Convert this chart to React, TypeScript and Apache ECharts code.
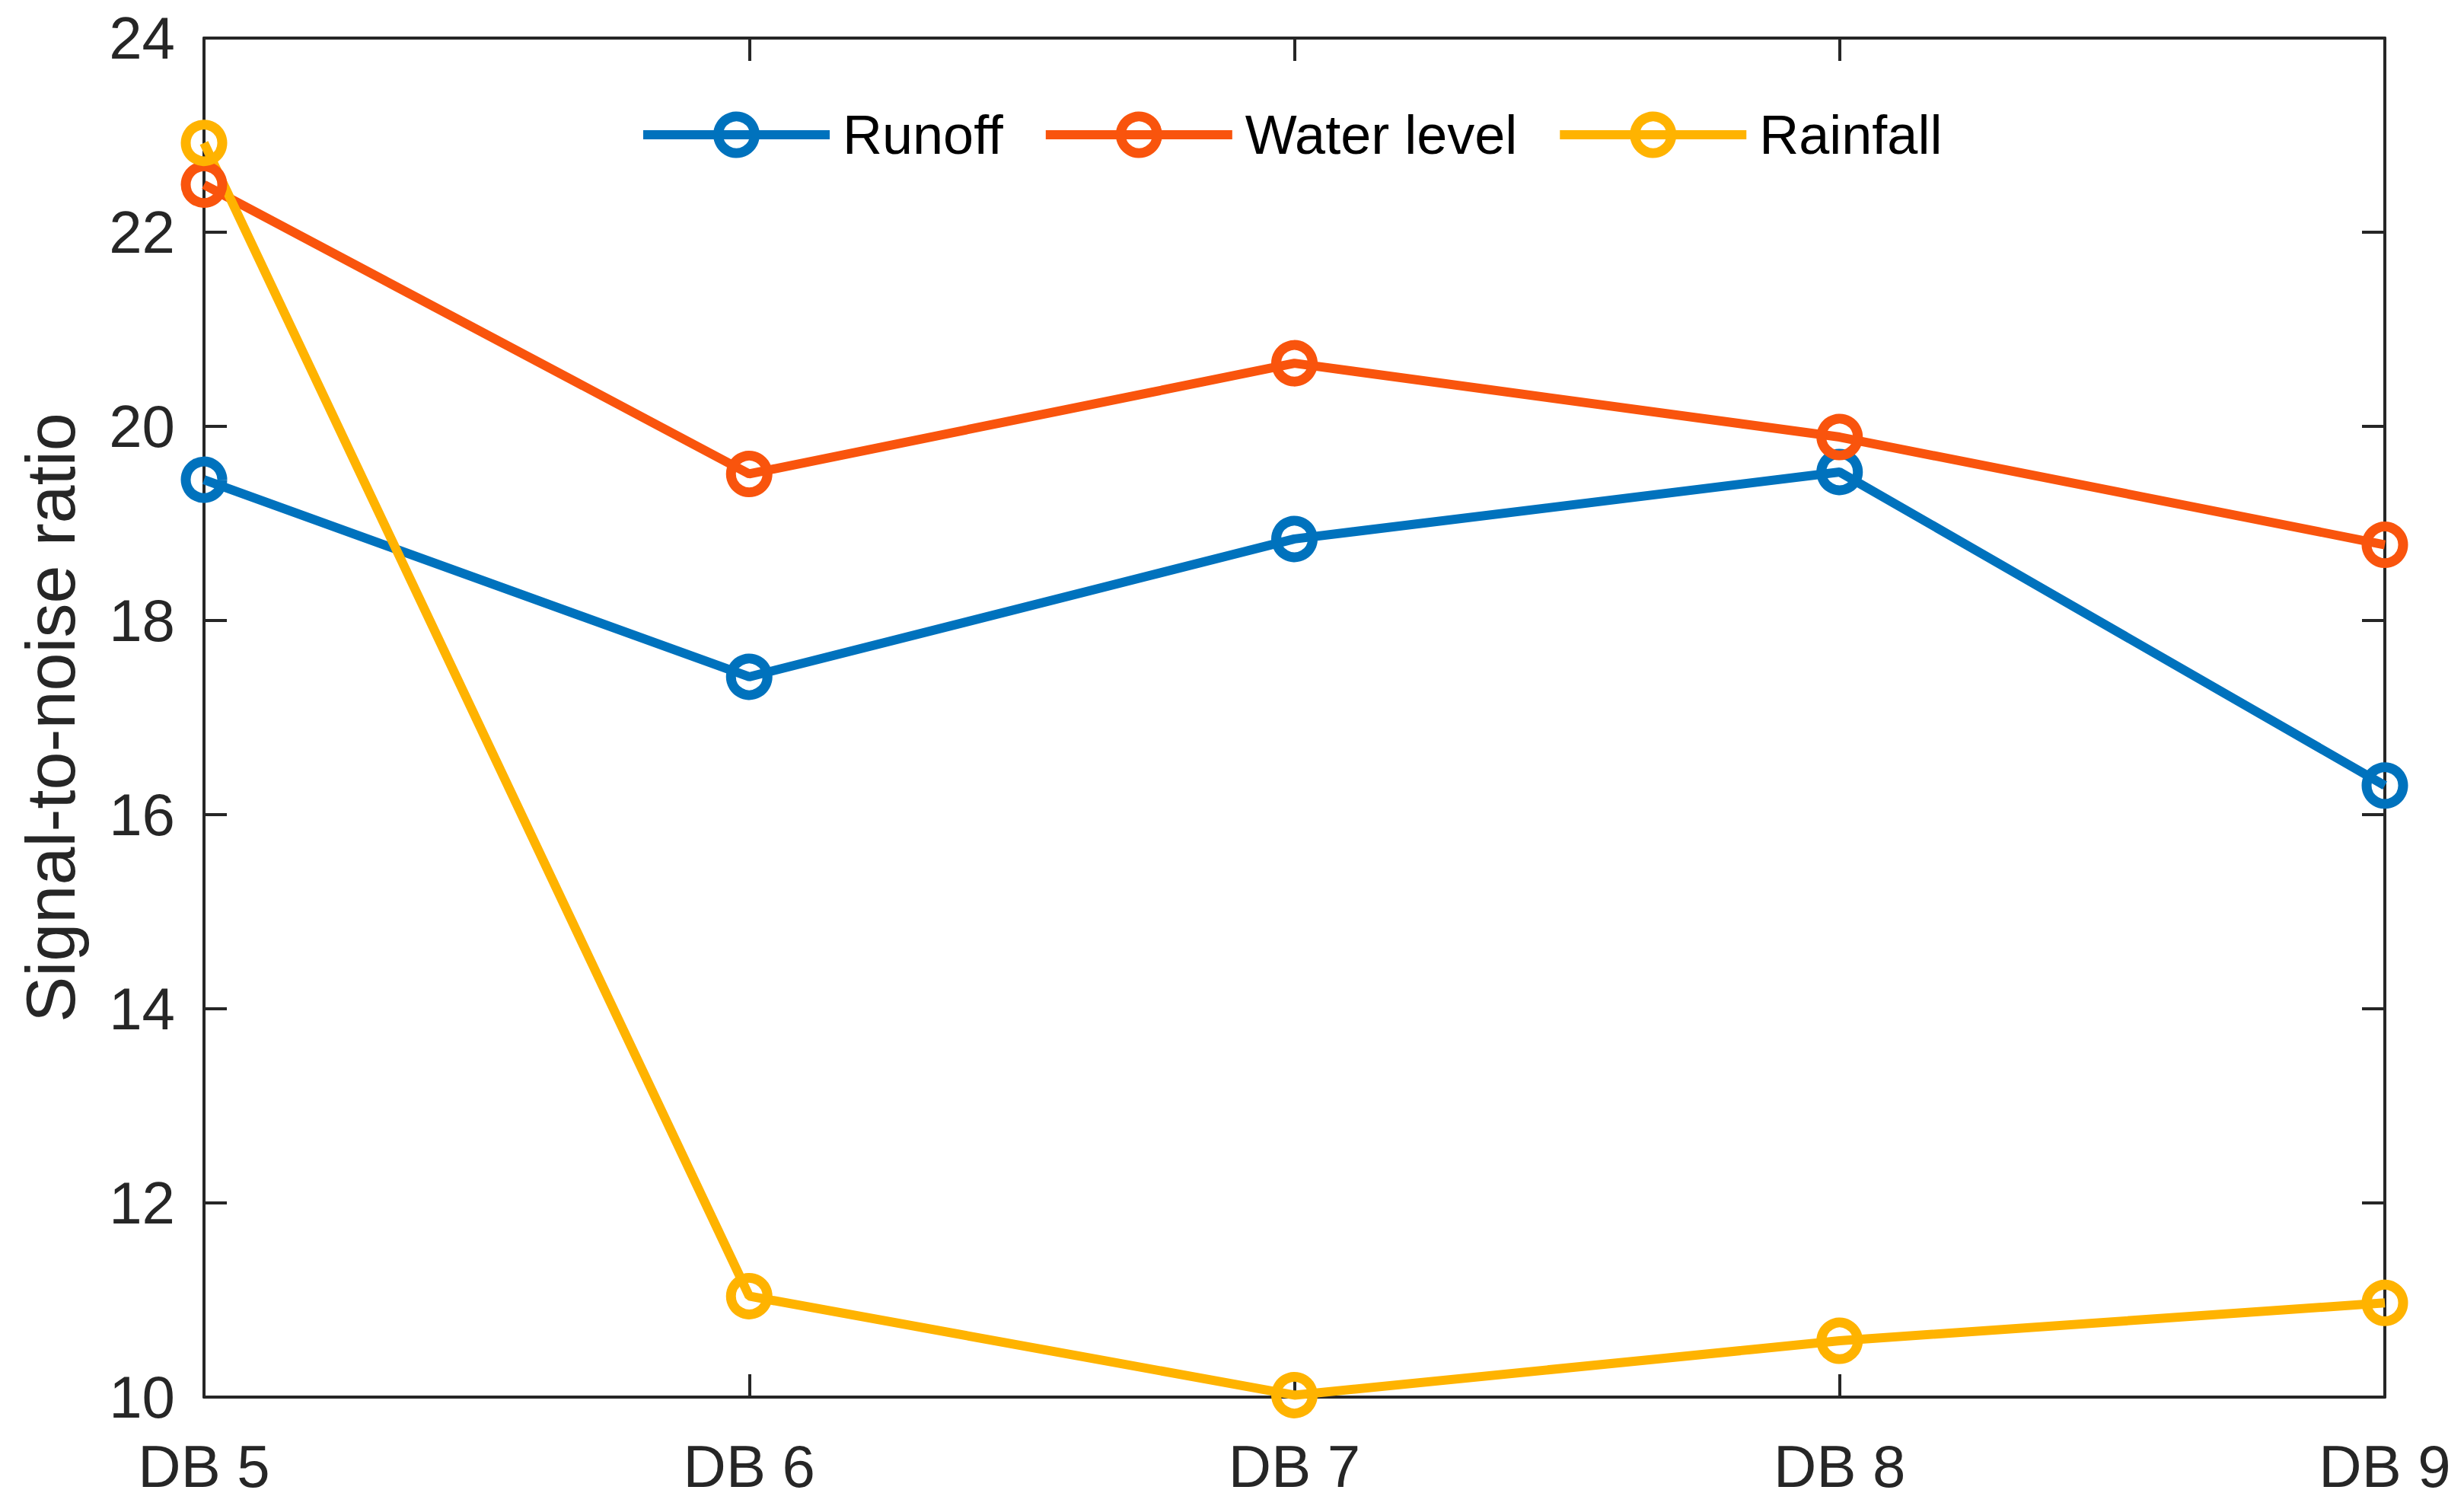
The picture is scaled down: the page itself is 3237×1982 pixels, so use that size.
import React, { useEffect, useRef } from "react";
import * as echarts from "echarts";

const categories = ["DB 5", "DB 6", "DB 7", "DB 8", "DB 9"];
const runoff = [19.45, 17.42, 18.84, 19.53, 16.3];
const waterLevel = [22.49, 19.51, 20.65, 19.89, 18.78];
const rainfall = [22.92, 11.04, 10.02, 10.58, 10.97];
const seriesNames = ["Runoff", "Water level", "Rainfall"];
const colors = ["#0072BD", "#F9540D", "#FFB300"];
const yTicks = { min: 10, max: 24, interval: 2 };

const AXIS_COLOR = "#262626";
const FONT = "Liberation Sans, Arial, sans-serif";

export default function App() {
  const ref = useRef<HTMLDivElement>(null);
  useEffect(() => {
    if (!ref.current) return;
    const chart = echarts.init(ref.current, null, { renderer: "svg" });
    const data = [runoff, waterLevel, rainfall];
    const axisLine = { show: true, lineStyle: { color: AXIS_COLOR, width: 4 } };
    const axisTick = { show: true, inside: true, length: 30, lineStyle: { color: AXIS_COLOR, width: 4 } };
    chart.setOption({
      animation: false,
      backgroundColor: "#ffffff",
      textStyle: { fontFamily: FONT },
      grid: { left: 268, right: 104, top: 50, bottom: 147, containLabel: false },
      legend: {
        data: seriesNames,
        left: 834,
        top: 136,
        itemWidth: 245,
        itemHeight: 60,
        itemGap: 50,
        textStyle: { fontSize: 72, color: "#000000", fontFamily: FONT, padding: [0, 0, 0, 12] },
        itemStyle: { borderWidth: 13 },
        lineStyle: { width: 12 },
      },
      xAxis: [
        {
          type: "category",
          data: categories,
          boundaryGap: false,
          position: "bottom",
          axisLine,
          axisTick: { ...axisTick, alignWithLabel: true },
          axisLabel: { fontSize: 78, color: AXIS_COLOR, margin: 52, fontFamily: FONT },
          splitLine: { show: false },
        },
        {
          type: "category",
          data: categories,
          boundaryGap: false,
          position: "top",
          axisLine,
          axisTick,
          axisLabel: { show: false },
          splitLine: { show: false },
        },
      ],
      yAxis: [
        {
          type: "value",
          min: yTicks.min,
          max: yTicks.max,
          interval: yTicks.interval,
          position: "left",
          name: "Signal-to-noise ratio",
          nameLocation: "middle",
          nameGap: 156,
          nameTextStyle: { fontSize: 90, color: AXIS_COLOR, fontFamily: FONT },
          axisLine,
          axisTick,
          axisLabel: { fontSize: 78, color: AXIS_COLOR, margin: 38, fontFamily: FONT },
          splitLine: { show: false },
        },
        {
          type: "value",
          min: yTicks.min,
          max: yTicks.max,
          interval: yTicks.interval,
          position: "right",
          axisLine,
          axisTick,
          axisLabel: { show: false },
          splitLine: { show: false },
        },
      ],
      series: seriesNames.map((name, i) => ({
        name,
        type: "line",
        data: data[i],
        xAxisIndex: 0,
        yAxisIndex: 0,
        symbol: "circle",
        symbolSize: 48,
        showAllSymbol: true,
        clip: false,
        lineStyle: { color: colors[i], width: 12 },
        itemStyle: { color: "rgba(0,0,0,0)", borderColor: colors[i], borderWidth: 13 },
        emphasis: { disabled: true },
      })),
    });
    return () => chart.dispose();
  }, []);
  return (
    <div
      ref={ref}
      style={{ position: "fixed", left: 0, top: 0, width: 3237, height: 1982, background: "#fff" }}
    />
  );
}
